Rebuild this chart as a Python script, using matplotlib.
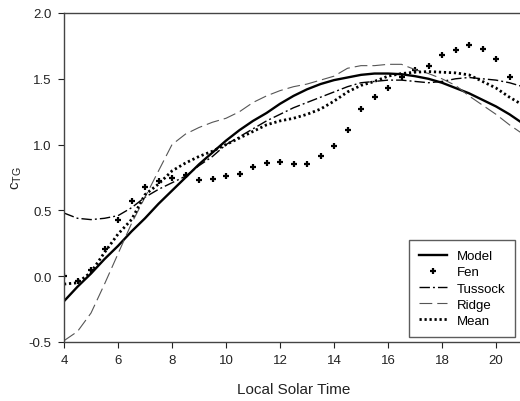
import matplotlib
matplotlib.use("Agg")
import matplotlib.pyplot as plt
from matplotlib.lines import Line2D

plt.rcParams['font.family'] = ['Liberation Sans', 'DejaVu Sans']

# Half-hourly local solar time
hours = [4.0, 4.5, 5.0, 5.5, 6.0, 6.5, 7.0, 7.5, 8.0, 8.5, 9.0, 9.5, 10.0, 10.5,
         11.0, 11.5, 12.0, 12.5, 13.0, 13.5, 14.0, 14.5, 15.0, 15.5, 16.0, 16.5,
         17.0, 17.5, 18.0, 18.5, 19.0, 19.5, 20.0, 20.5, 21.0]

model = [-0.19, -0.08, 0.02, 0.13, 0.23, 0.34, 0.44, 0.55, 0.65, 0.75, 0.85, 0.94,
         1.03, 1.11, 1.18, 1.24, 1.31, 1.37, 1.42, 1.46, 1.49, 1.51, 1.53, 1.54,
         1.54, 1.535, 1.52, 1.50, 1.47, 1.43, 1.39, 1.34, 1.29, 1.23, 1.16]

tussock = [0.48, 0.44, 0.43, 0.44, 0.46, 0.52, 0.60, 0.66, 0.71, 0.76, 0.84, 0.91,
           1.00, 1.06, 1.12, 1.18, 1.23, 1.28, 1.32, 1.36, 1.40, 1.44, 1.47, 1.48,
           1.49, 1.49, 1.48, 1.47, 1.48, 1.50, 1.51, 1.50, 1.49, 1.47, 1.44]

ridge = [-0.49, -0.42, -0.28, -0.06, 0.17, 0.40, 0.60, 0.80, 1.00, 1.08, 1.13, 1.17,
         1.20, 1.25, 1.32, 1.37, 1.41, 1.44, 1.46, 1.49, 1.52, 1.58, 1.60, 1.60,
         1.61, 1.61, 1.57, 1.54, 1.50, 1.45, 1.37, 1.30, 1.23, 1.15, 1.08]

mean = [-0.06, -0.05, 0.03, 0.18, 0.32, 0.43, 0.62, 0.70, 0.80, 0.86, 0.91, 0.95,
        1.00, 1.05, 1.10, 1.15, 1.18, 1.20, 1.23, 1.27, 1.33, 1.40, 1.45, 1.48,
        1.52, 1.54, 1.55, 1.555, 1.55, 1.545, 1.53, 1.48, 1.43, 1.36, 1.30]

fen_hours = [4.0, 4.5, 5.0, 5.5, 6.0, 6.5, 7.0, 7.5, 8.0, 8.5, 9.0, 9.5, 10.0, 10.5,
             11.0, 11.5, 12.0, 12.5, 13.0, 13.5, 14.0, 14.5, 15.0, 15.5, 16.0, 16.5,
             17.0, 17.5, 18.0, 18.5, 19.0, 19.5, 20.0, 20.5]
fen = [0.00, -0.04, 0.05, 0.21, 0.43, 0.57, 0.68, 0.72, 0.75, 0.77, 0.73, 0.74,
       0.76, 0.78, 0.83, 0.86, 0.87, 0.85, 0.85, 0.91, 0.99, 1.11, 1.27, 1.36,
       1.43, 1.51, 1.57, 1.60, 1.68, 1.72, 1.76, 1.73, 1.65, 1.51]

x_ticks = [4, 6, 8, 10, 12, 14, 16, 18, 20]
y_ticks = [-0.5, 0.0, 0.5, 1.0, 1.5, 2.0]
y_ticklabels = ['-0.5', '0.0', '0.5', '1.0', '1.5', '2.0']

fig = plt.figure(figsize=(5.2, 4.02), dpi=100)
# axes extends slightly past the right edge (original image is cropped)
ax = fig.add_axes([64/520, 59/402, 459/520, 329/402])
ax.set_xlim(4, 21)
ax.set_ylim(-0.5, 2.0)

ax.plot(hours, model, color='black', lw=1.7, solid_capstyle='butt')
ax.plot(fen_hours, fen, linestyle='none', marker='+', color='black',
        markersize=5, mew=1.6)
ax.plot(hours, tussock, color='black', lw=1.0,
        dashes=(7.5, 2.2, 1.4, 2.2))
ax.plot(hours, ridge, color='#555555', lw=0.8, dashes=(11.5, 4.5))
ax.plot(hours, mean, color='black', lw=2.0, dashes=(0.8, 1.0))

ax.set_xticks(x_ticks)
ax.set_yticks(y_ticks)
ax.set_yticklabels(y_ticklabels)
ax.tick_params(direction='out', length=4, width=0.8, labelsize=9.5,
               colors='#222222', pad=5)
for s in ['left', 'bottom', 'top']:
    ax.spines[s].set_color('#444444')
    ax.spines[s].set_linewidth(1.0)
ax.spines['right'].set_visible(False)

ax.set_xlabel('Local Solar Time', fontsize=11, color='#222222', labelpad=11)
ax.set_ylabel(r'$\mathregular{c_{TG}}$', fontsize=11, color='#222222', labelpad=3)

handles = [
    Line2D([], [], color='black', lw=1.7),
    Line2D([], [], linestyle='none', marker='+', color='black', markersize=5, mew=1.6),
    Line2D([], [], color='black', lw=1.0, dashes=(7.5, 2.2, 1.4, 2.2)),
    Line2D([], [], color='#555555', lw=0.8, dashes=(11.5, 4.5)),
    Line2D([], [], color='black', lw=2.0, dashes=(0.8, 1.0)),
]
labels = ['Model', 'Fen', 'Tussock', 'Ridge', 'Mean']
leg = fig.legend(handles, labels, loc='upper left',
                 bbox_to_anchor=(409/520, 1 - 241/402), fontsize=9.5,
                 frameon=True, fancybox=False, edgecolor='#333333',
                 handlelength=2.1, handletextpad=0.75, borderpad=0.75,
                 labelspacing=0.3, borderaxespad=0)
leg.get_frame().set_linewidth(1.0)

fig.savefig('out.png', dpi=100)
